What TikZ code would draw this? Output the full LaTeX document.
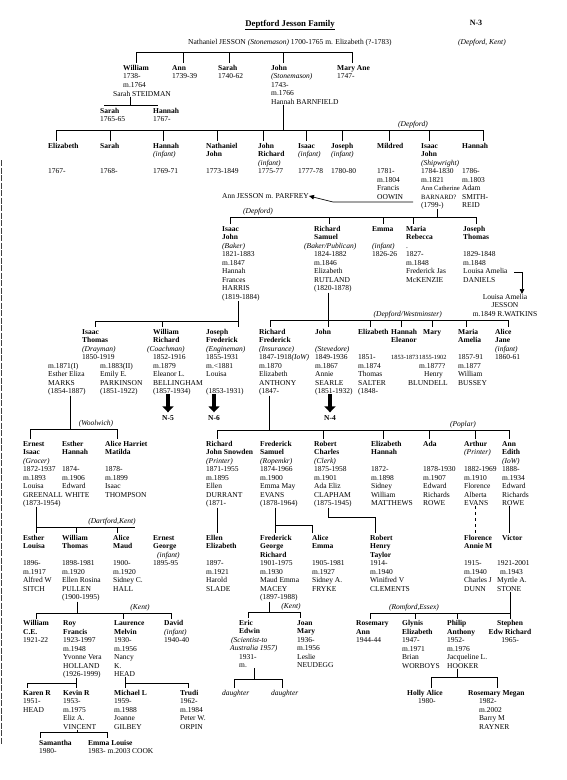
\documentclass[tikz,border=0pt]{standalone}
\usepackage{fontspec}
\setmainfont{Liberation Serif}
\usetikzlibrary{arrows.meta,positioning}
\newcommand{\pf}{\fontsize{7.5}{8.5}\selectfont}
\newcommand{\sq}{\fontsize{6.3}{8.5}\selectfont}
\tikzset{
  person/.style={anchor=north west, inner sep=0pt, align=left, font=\pf},
  tree/.style={line width=0.8pt},
  drop/.style={line width=0.8pt, shorten >=2pt},
  place/.style={anchor=south, inner sep=0.5pt, font=\pf\itshape},
  blk/.style={line width=4pt, -{Triangle[length=6pt,width=11pt]}},
  ptr/.style={line width=0.7pt, -{Triangle[length=5pt,width=4.5pt]}},
  seq/.style={font=\pf\bfseries, inner sep=0pt}
}
\begin{document}
\begin{tikzpicture}[x=1pt,y=-1pt]
\useasboundingbox (0,0) rectangle (567,780);
% scanned page edge
\draw[black!75, line width=1.6pt, dash pattern=on 6pt off 1.5pt] (1.5,160) -- (1.5,745);

% Heading
\node[font=\fontsize{8.8}{10}\selectfont\bfseries] (ttl) at (290,25) {\underline{Deptford Jesson Family}};
\node[font=\fontsize{8}{10}\selectfont\bfseries] (pg) at (476,23) {N-3};
\node[person, anchor=west] (nat) at (188,43) {Nathaniel JESSON \textit{(Stonemason)} 1700-1765 m. Elizabeth (?-1783)};
\node[person, anchor=west, font=\pf\itshape] (kent) at (458,43) {(Depford, Kent)};

% Nathaniel's children
\node[person] (wil) at (123,65) {\textbf{William}\\1738-\\m.1764};
\node[person] (wilw) at (113,91) {Sarah STEIDMAN};
\node[person] (ann) at (172,65) {\textbf{Ann}\\1739-39};
\node[person] (sar) at (218,65) {\textbf{Sarah}\\1740-62};
\node[person] (joh) at (271,65) {\textbf{John}\\\textit{(Stonemason)}\\1743-\\m.1766\\Hannah BARNFIELD};
\node[person] (mar) at (337,65) {\textbf{Mary Ane}\\1747-};
\coordinate (a1) at (136,52); \coordinate (a2) at (352,52);
\draw[tree] (a1) -- (a2);
\foreach \x/\n in {136/wil,183/ann,229/sar,283/joh,352/mar}
  \draw[drop] (\x,52) -- (\x,52 |- \n.north);

% William's children
\node[person] (sa2) at (100,108) {\textbf{Sarah}\\1765-65};
\node[person] (ha2) at (153,108) {\textbf{Hannah}\\1767-};
\coordinate (wc) at (130,105);
\draw[tree] (wilw.south -| wc) -- (wc);
\draw[tree] (104,105) -- (157,105);
\foreach \x/\n in {104/sa2,157/ha2}
  \draw[drop] (\x,105) -- (\x,105 |- \n.north);

% John's children
\node[person] (eli) at (48,143) {\textbf{Elizabeth}\\ \\ \\1767-};
\node[person] (sa3) at (100,143) {\textbf{Sarah}\\ \\ \\1768-};
\node[person] (ha3) at (153,143) {\textbf{Hannah}\\\textit{(infant)}\\ \\1769-71};
\node[person] (nj) at (206,143) {\textbf{Nathaniel}\\\textbf{John}\\ \\1773-1849};
\node[person] (jr) at (258,143) {\textbf{John}\\\textbf{Richard}\\\textit{(infant)}\\1775-77};
\node[person] (isa) at (298,143) {\textbf{Isaac}\\\textit{(infant)}\\ \\1777-78};
\node[person] (jos) at (331,143) {\textbf{Joseph}\\\textit{(infant)}\\ \\1780-80};
\node[person] (mil) at (377,143) {\textbf{Mildred}\\ \\ \\1781-\\m.1804\\Francis\\OOWIN};
\node[person] (ijs) at (421,143) {\textbf{Isaac}\\\textbf{John}\\\textit{(Shipwright)}\\1784-1830\\m.1821\\{\fontsize{6.6}{8.5}\selectfont Ann Catherine}\\{\fontsize{6.6}{8.5}\selectfont BARNARD?}\\(1799-)};
\node[person] (han) at (462,143) {\textbf{Hannah}\\ \\ \\1786-\\m.1803\\Adam\\SMITH-\\REID};
\coordinate (jc) at (283,130);
\draw[tree] (joh.south -| jc) -- (jc);
\draw[tree] (56,130) -- (483,130);
\node[place] (pl1) at (413,129) {(Depford)};
\foreach \x/\n in {56/eli,110/sa3,163/ha3,217/nj,263/jr,306/isa,342/jos,389/mil,429/ijs,483/han}
  \draw[drop] (\x,130) -- (\x,130 |- \n.north);

% Ann JESSON
\node[person, anchor=west] (ajp) at (222,196) {Ann JESSON m. PARFREY};
\coordinate (mc) at (413,202); \coordinate (mk) at (333,202);
\draw[ptr] (mc) -- (mk) -- (ajp.east);

% Isaac John's children
\node[person] (ijb) at (222,226) {\textbf{Isaac}\\\textbf{John}\\\textit{(Baker)}\\1821-1883\\m.1847\\Hannah\\Frances\\HARRIS\\(1819-1884)};
\node[person] (rsb) at (314,226) {\textbf{Richard}\\\textbf{Samuel}\\\hspace*{-10pt}\textit{(Baker/Publican)}\\1824-1882\\m.1846\\Elizabeth\\RUTLAND\\(1820-1878)};
\node[person] (emm) at (372,226) {\textbf{Emma}\\ \\\textit{(infant)}\\1826-26};
\node[person] (mrb) at (406,226) {\textbf{Maria}\\\textbf{Rebecca}\\.\\1827-\\m.1848\\Frederick Jas\\McKENZIE};
\node[person] (jth) at (463,226) {\textbf{Joseph}\\\textbf{Thomas}\\ \\1829-1848\\m.1848\\Louisa Amelia\\DANIELS};
\node[person, anchor=north, align=center] (lam) at (505,294) {Louisa Amelia\\JESSON\\m.1849 R.WATKINS};
\coordinate (ic) at (437,217);
\draw[tree] (ijs.south -| ic) -- (ic);
\draw[tree] (230,217) -- (476,217);
\node[place] (pl2) at (258,216) {(Depford)};
\foreach \x/\n in {230/ijb,329/rsb,383/emm,413/mrb,476/jth}
  \draw[drop] (\x,217) -- (\x,217 |- \n.north);
\coordinate (la) at (514,272);
\draw[ptr] (la) -| ([xshift=17pt]lam.north);

% Isaac John (Baker)'s children
\node[person] (itd) at (82,329) {\textbf{Isaac}\\\textbf{Thomas}\\\textit{(Drayman)}\\1850-1919};
\node[person] (m1) at (48,363) {m.1871(I)\\Esther Eliza\\MARKS\\(1854-1887)};
\node[person] (m2) at (100,363) {m.1883(II)\\Emily E.\\PARKINSON\\(1851-1922)};
\node[person] (wrc) at (153,329) {\textbf{William}\\\textbf{Richard}\\\hspace*{-6pt}\textit{(Coachman)}\\1852-1916\\m.1879\\Eleanor L.\\BELLINGHAM\\(1857-1934)};
\node[person] (jfe) at (206,329) {\textbf{Joseph}\\\textbf{Frederick}\\\textit{(Engineman)}\\1855-1931\\m.<1881\\Louisa\\ \\(1853-1931)};
\coordinate (bc) at (238,321);
\draw[tree] (ijb.south -| bc) -- (bc);
\draw[tree] (95,321) -- (238,321);
\foreach \x/\n in {95/itd,162/wrc,238/jfe}
  \draw[drop] (\x,321) -- (\x,321 |- \n.north);

% Richard Samuel's children
\node[person] (rfi) at (259,329) {\textbf{Richard}\\\textbf{Frederick}\\\textit{(Insurance)}\\1847-1918\textit{(IoW)}\\m.1870\\Elizabeth\\ANTHONY\\(1847-};
\node[person] (jst) at (315,329) {\textbf{John}\\ \\\textit{(Stevedore)}\\1849-1936\\m.1867\\Annie\\SEARLE\\(1851-1932)};
\node[person] (elz) at (358,329) {\textbf{Elizabeth}\\ \\ \\1851-\\m.1874\\Thomas\\SALTER\\(1848-};
\node[person] (hel) at (391,329) {\textbf{Hannah}\\\textbf{Eleanor}\\ \\{\sq 1853-1873}};
\node[person] (mry) at (419,329) {\hspace*{4pt}\textbf{Mary}\\ \\ \\{\sq 1855-1902}\\m.1877?\\\hspace*{5pt}Henry\\\hspace*{-11pt}BLUNDELL};
\node[person] (mam) at (458,329) {\textbf{Maria}\\\textbf{Amelia}\\ \\1857-91\\m.1877\\William\\BUSSEY};
\node[person] (ajn) at (495,329) {\textbf{Alice}\\\textbf{Jane}\\\textit{(infant)}\\1860-61};
\coordinate (sc) at (328,320);
\draw[tree] (rsb.south -| sc) -- (sc);
\draw[tree] (270,320) -- (508,320);
\node[place, anchor=south west] (pl3) at (373,319) {(Depford/Westminster)};
\foreach \x/\n in {270/rfi,328/jst,370/elz,401/hel,432/mry,466/mam,508/ajn}
  \draw[drop] (\x,320) -- (\x,320 |- \n.north);

% continued on other sheets
\node[seq] (n5) at (168,418) {N-5};
\node[seq] (n6) at (214,418) {N-6};
\node[seq] (n4) at (330,418) {N-4};
\foreach \n in {n5,n6,n4}
  \draw[blk] ([yshift=21pt]\n.north) -- ([yshift=3pt]\n.north);

% Isaac Thomas's children
\node[person] (eig) at (23,441) {\textbf{Ernest}\\\textbf{Isaac}\\\textit{(Grocer)}\\1872-1937\\m.1893\\Louisa\\GREENALL\\(1873-1954)};
\node[person] (ehw) at (62,441) {\textbf{Esther}\\\textbf{Hannah}\\ \\1874-\\m.1906\\Edward\\\hspace*{3pt}WHITE};
\node[person] (ahm) at (105,441) {\textbf{Alice Harriet}\\\textbf{Matilda}\\ \\1878-\\m.1899\\Isaac\\THOMPSON};
\coordinate (tc) at (70,429);
\draw[tree] (m1.south -| tc) -- (tc);
\draw[tree] (30,429) -- (117,429);
\node[place] (pl4) at (96,428) {(Woolwich)};
\foreach \x/\n in {30/eig,117/ahm}
  \draw[drop] (\x,429) -- (\x,429 |- \n.north);

% Richard Frederick's children
\node[person] (rjs) at (206,441) {\textbf{Richard}\\\textbf{John Snowden}\\\textit{(Printer)}\\1871-1955\\m.1895\\Ellen\\DURRANT\\(1871-};
\node[person] (fsr) at (260,441) {\textbf{Frederick}\\\textbf{Samuel}\\\textit{(Ropemkr)}\\1874-1966\\m.1900\\Emma May\\EVANS\\(1878-1964)};
\node[person] (rcc) at (314,441) {\textbf{Robert}\\\textbf{Charles}\\\textit{(Clerk)}\\1875-1958\\m.1901\\Ada Eliz\\CLAPHAM\\(1875-1945)};
\node[person] (ehm) at (371,441) {\textbf{Elizabeth}\\\textbf{Hannah}\\ \\1872-\\m.1898\\Sidney\\William\\MATTHEWS};
\node[person] (ada) at (423,441) {\textbf{Ada}\\ \\ \\1878-1930\\m.1907\\Edward\\Richards\\ROWE};
\node[person] (apr) at (464,441) {\textbf{Arthur}\\\textit{(Printer)}\\ \\1882-1969\\m.1910\\Florence\\Alberta\\EVANS};
\node[person] (aed) at (502,441) {\textbf{Ann}\\\textbf{Edith}\\\textit{(IoW)}\\1888-\\m.1934\\Edward\\Richards\\ROWE};
\coordinate (fc) at (269,430);
\draw[tree] (rfi.south -| fc) -- (fc);
\draw[tree] (217,430) -- (509,430);
\node[place] (pl5) at (463,429) {(Poplar)};
\foreach \x/\n in {217/rjs,323/rcc,383/ehm,429/ada,475/apr,509/aed}
  \draw[drop] (\x,430) -- (\x,430 |- \n.north);

% Ernest Isaac's children
\node[person] (elo) at (23,535) {\textbf{Esther}\\\textbf{Louisa}\\ \\1896-\\m.1917\\Alfred W\\SITCH};
\node[person] (wth) at (62,535) {\textbf{William}\\\textbf{Thomas}\\ \\1898-1981\\m.1920\\Ellen Rosina\\PULLEN\\(1900-1995)};
\node[person] (ama) at (113,535) {\textbf{Alice}\\\textbf{Maud}\\ \\1900-\\m.1920\\Sidney C.\\HALL};
\node[person] (egi) at (153,535) {\textbf{Ernest}\\\textbf{George}\\\hspace*{4pt}\textit{(infant)}\\1895-95};
\coordinate (ec) at (36,527);
\draw[tree] (eig.south -| ec) -- (ec);
\draw[tree] (36,527) -- (135,527);
\node[place] (pl6) at (112,526) {(Dartford,Kent)};
\foreach \x/\n in {36/elo,76/wth,117/ama}
  \draw[drop] (\x,527) -- (\x,527 |- \n.north);

% next generation, Poplar branch
\node[person] (eel) at (206,535) {\textbf{Ellen}\\\textbf{Elizabeth}\\ \\1897-\\m.1921\\Harold\\SLADE};
\node[person] (fgr) at (260,535) {\textbf{Frederick}\\\textbf{George}\\\textbf{Richard}\\1901-1975\\m.1930\\Maud Emma\\MACEY\\(1897-1988)};
\node[person] (aem) at (312,535) {\textbf{Alice}\\\textbf{Emma}\\ \\1905-1981\\m.1927\\Sidney A.\\FRYKE};
\node[person] (rht) at (370,535) {\textbf{Robert}\\\textbf{Henry}\\\textbf{Taylor}\\1914-\\m.1940\\Winifred V\\CLEMENTS};
\node[person] (fam) at (464,535) {\textbf{Florence}\\\textbf{Annie M}\\ \\1915-\\m.1940\\Charles J\\DUNN};
\node[person] (vic) at (497,535) {\hspace*{5pt}\textbf{Victor}\\ \\ \\1921-2001\\\hspace*{3pt}m.1943\\Myrtle A.\\STONE};
\coordinate (rjc) at (217,530);
\draw[drop] (rjs.south -| rjc) -- (rjc |- eel.north);
\coordinate (sfc) at (275,525);
\draw[tree] (fsr.south -| sfc) -- (sfc) -- (312,525);
\foreach \x/\n in {275/fgr,312/aem}
  \draw[drop] (\x,525) -- (\x,525 |- \n.north);
\coordinate (cc) at (328,517);
\draw[tree] (rcc.south -| cc) -- (cc) -- (375,517);
\draw[drop] (375,517) -- (375,517 |- rht.north);
\coordinate (apc) at (475,530);
\draw[drop, dashed] (apr.south -| apc) -- (apc |- fam.north);
\coordinate (aec) at (509,530);
\draw[drop] (aed.south -| aec) -- (aec |- vic.north);

% William Thomas's children
\node[person] (wce) at (23,620.5) {\textbf{William}\\\textbf{C.E.}\\1921-22};
\node[person] (rfr) at (63,620.5) {\textbf{Roy}\\\textbf{Francis}\\1923-1997\\m.1948\\Yvonne Vera\\HOLLAND\\(1926-1999)};
\node[person] (lme) at (114,620.5) {\textbf{Laurence}\\\textbf{Melvin}\\1930-\\m.1956\\Nancy\\K.\\HEAD};
\node[person] (dav) at (164,620.5) {\textbf{David}\\\textit{(infant)}\\1940-40};
\coordinate (wtc) at (77,613);
\draw[tree] (wth.south -| wtc) -- (wtc);
\draw[tree] (36,613) -- (171,613);
\node[place] (pl7) at (140,612) {(Kent)};
\foreach \x/\n in {36/wce,123/lme,171/dav}
  \draw[drop] (\x,613) -- (\x,613 |- \n.north);

% Frederick George Richard's children
\node[person] (eed) at (239,620) {\textbf{Eric}\\\textbf{Edwin}\\\hspace*{-8pt}\textit{(Scientist-to}\\\hspace*{-9pt}\textit{Australia 1957)}\\1931-\\m.};
\node[person] (jma) at (297,620) {\textbf{Joan}\\\textbf{Mary}\\1936-\\m.1956\\Leslie\\NEUDEGG};
\coordinate (gc) at (269,612);
\draw[tree] (fgr.south -| gc) -- (gc);
\draw[tree] (248,612) -- (300,612);
\node[place] (pl8) at (291,611) {(Kent)};
\foreach \x/\n in {248/eed,300/jma}
  \draw[drop] (\x,612) -- (\x,612 |- \n.north);

% Victor's children
\node[person] (ros) at (356,620.5) {\textbf{Rosemary}\\\textbf{Ann}\\1944-44};
\node[person] (gly) at (402,620.5) {\textbf{Glynis}\\\textbf{Elizabeth}\\1947-\\m.1971\\Brian\\WORBOYS};
\node[person] (pha) at (447,620.5) {\textbf{Philip}\\\textbf{Anthony}\\1952-\\m.1976\\Jacqueline L.\\HOOKER};
\node[person, anchor=north, align=center] (ser) at (510,620.5) {\textbf{Stephen}\\\textbf{Edw Richard}\\1965-};
\coordinate (vc) at (510,613);
\draw[tree] (vic.south -| vc) -- (vc);
\draw[tree] (370,613) -- (510,613);
\node[place] (pl9) at (414,612) {(Romford,Essex)};
\foreach \x/\n in {370/ros,415/gly,457/pha,510/ser}
  \draw[drop] (\x,613) -- (\x,613 |- \n.north);

% grandchildren
\node[person] (kar) at (23,690) {\textbf{Karen R}\\1951-\\HEAD};
\node[person] (kev) at (63,690) {\textbf{Kevin R}\\1953-\\m.1975\\Eliz A.\\VINCENT};
\node[person] (mic) at (114,690) {\textbf{Michael L}\\1959-\\m.1988\\Joanne\\GILBEY};
\node[person] (tru) at (180,690) {\textbf{Trudi}\\1962-\\m.1984\\Peter W.\\ORPIN};
\coordinate (rc) at (76,683);
\draw[tree] (rfr.south -| rc) -- (rc) -- (27,683);
\foreach \x/\n in {27/kar,76/kev}
  \draw[drop] (\x,683) -- (\x,683 |- \n.north);
\coordinate (lc) at (125,683);
\draw[drop] (lme.south -| lc) -- (lc |- mic.north);
\draw[tree] (lc) -- (188,683);
\draw[drop] (188,683) -- (188,683 |- tru.north);

\node[person, font=\pf\itshape] (dg1) at (222,690) {daughter};
\node[person, font=\pf\itshape] (dg2) at (271,690) {daughter};
\coordinate (erc) at (254,679);
\draw[tree] (eed.south -| erc) -- (erc);
\draw[tree] (234,679) -- (282,679);
\foreach \x/\n in {234/dg1,282/dg2}
  \draw[drop] (\x,679) -- (\x,679 |- \n.north);

\node[person] (hol) at (407,690) {\textbf{Holly Alice}\\\hspace*{11pt}1980-};
\node[person] (rme) at (479,690) {\hspace*{-11pt}\textbf{Rosemary Megan}\\1982-\\m.2002\\Barry M\\RAYNER};
\coordinate (pc) at (457,677);
\draw[tree] (pha.south -| pc) -- (pc);
\draw[tree] (431,677) -- (497,677);
\foreach \x/\n in {431/hol,497/rme}
  \draw[drop] (\x,677) -- (\x,677 |- \n.north);

% Kevin's children
\node[person] (sam) at (39,740) {\textbf{Samantha}\\1980-};
\node[person] (eml) at (88,740) {\textbf{Emma Louise}\\1983- m.2003 COOK};
\coordinate (kc) at (77,732);
\draw[tree] (kev.south -| kc) -- (kc);
\draw[tree] (40,732) -- (107,732);
\foreach \x/\n in {40/sam,107/eml}
  \draw[drop] (\x,732) -- (\x,732 |- \n.north);
\end{tikzpicture}
\end{document}
